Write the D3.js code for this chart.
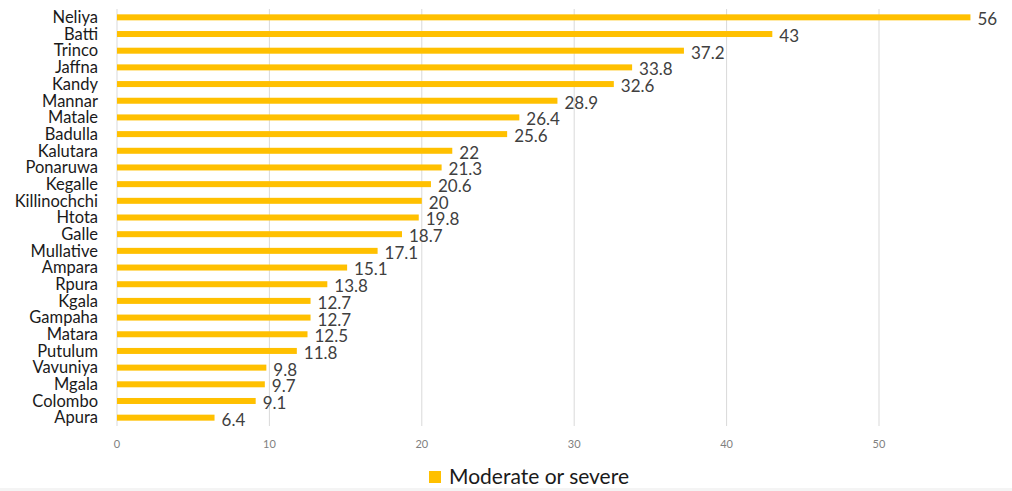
<!DOCTYPE html>
<html>
<head>
<meta charset="UTF-8">
<script src="https://cdnjs.cloudflare.com/ajax/libs/d3/7.8.5/d3.min.js"></script>
<style>
  body { margin: 0; background: #fff; }
  svg text { font-family: "Lato", "Open Sans", sans-serif; }
</style>
</head>
<body>
<div id="chart"></div>
<script>
var districts = ["Neliya", "Batti", "Trinco", "Jaffna", "Kandy", "Mannar", "Matale", "Badulla",
  "Kalutara", "Ponaruwa", "Kegalle", "Killinochchi", "Htota", "Galle", "Mullative", "Ampara",
  "Rpura", "Kgala", "Gampaha", "Matara", "Putulum", "Vavuniya", "Mgala", "Colombo", "Apura"];
var values = [56, 43, 37.2, 33.8, 32.6, 28.9, 26.4, 25.6, 22, 21.3, 20.6, 20, 19.8, 18.7, 17.1,
  15.1, 13.8, 12.7, 12.7, 12.5, 11.8, 9.8, 9.7, 9.1, 6.4];
var ticks = [0, 10, 20, 30, 40, 50];
var seriesName = "Moderate or severe";

var width = 1012, height = 491;
var color = "#FFC000";

var svg = d3.select("#chart").append("svg")
  .attr("width", width)
  .attr("height", height);

var x = d3.scaleLinear().domain([0, 50]).range([117, 879]);
var y = d3.scaleBand().domain(districts).range([9, 426]);

// faint strip at the bottom edge
svg.append("rect")
  .attr("x", 0).attr("y", 488)
  .attr("width", width).attr("height", 3)
  .attr("fill", "#f4f4f4");

// gridlines
svg.append("g")
  .selectAll("line")
  .data(ticks)
  .enter().append("line")
  .attr("x1", d => x(d)).attr("x2", d => x(d))
  .attr("y1", 9).attr("y2", 426)
  .attr("stroke", "#d9d9d9")
  .attr("stroke-width", 1);

// tick labels
svg.append("g")
  .selectAll("text")
  .data(ticks)
  .enter().append("text")
  .attr("x", d => x(d))
  .attr("y", 448)
  .attr("text-anchor", "middle")
  .attr("font-size", 11)
  .attr("fill", "#7f7f7f")
  .text(d => d);

var data = districts.map((d, i) => ({ name: d, value: values[i] }));
var barH = 6;

svg.append("g")
  .selectAll("rect")
  .data(data)
  .enter().append("rect")
  .attr("x", x(0))
  .attr("y", d => y(d.name) + y.bandwidth() / 2 - barH / 2)
  .attr("width", d => x(d.value) - x(0))
  .attr("height", barH)
  .attr("fill", color);

// category labels
svg.append("g")
  .selectAll("text")
  .data(data)
  .enter().append("text")
  .attr("x", 98)
  .attr("y", d => y(d.name) + y.bandwidth() / 2)
  .attr("dy", "0.35em")
  .attr("text-anchor", "end")
  .attr("font-size", 16.5)
  .attr("fill", "#1a1a1a")
  .text(d => d.name);

// value labels
svg.append("g")
  .selectAll("text")
  .data(data)
  .enter().append("text")
  .attr("x", d => x(d.value) + 7)
  .attr("y", d => y(d.name) + y.bandwidth() / 2 + 2)
  .attr("dy", "0.35em")
  .attr("font-size", 17)
  .attr("fill", "#404040")
  .text(d => d.value);

// legend
var legend = svg.append("g").attr("transform", "translate(429,471)");
legend.append("rect")
  .attr("width", 12).attr("height", 12)
  .attr("fill", color);
legend.append("text")
  .attr("x", 20).attr("y", 6)
  .attr("dy", "0.35em")
  .attr("font-size", 21)
  .attr("fill", "#1a1a1a")
  .text(seriesName);
</script>
</body>
</html>
